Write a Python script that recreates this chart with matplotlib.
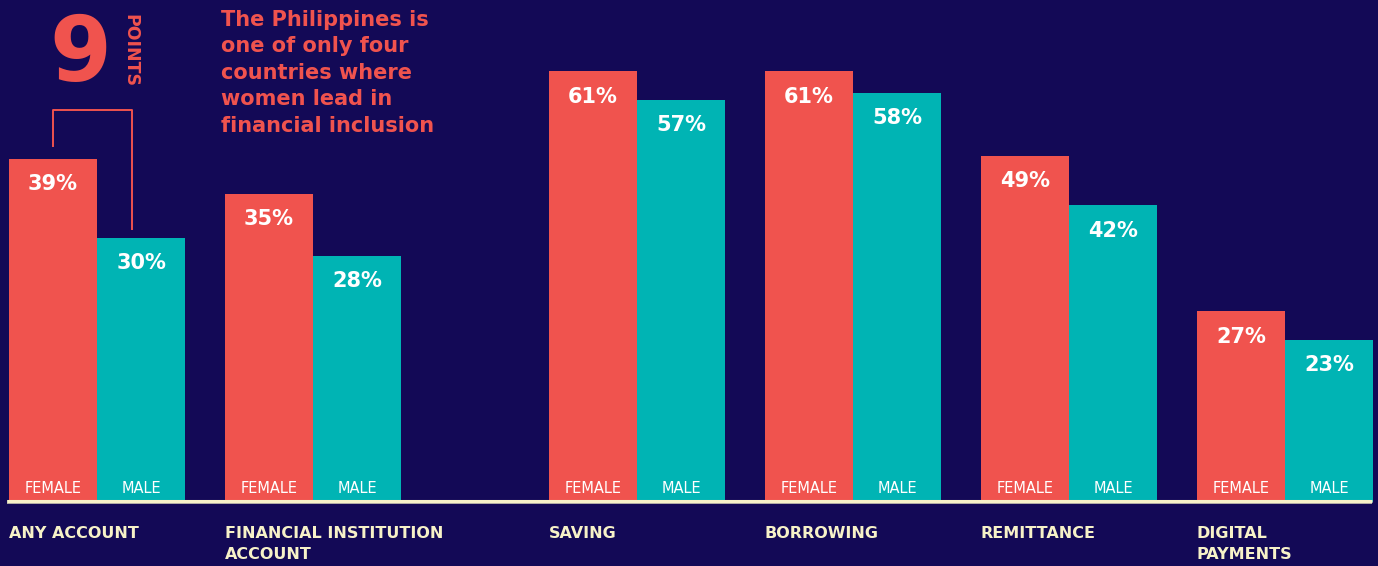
import matplotlib
matplotlib.use("Agg")
import matplotlib.pyplot as plt

# data
categories = ["ANY ACCOUNT", "FINANCIAL INSTITUTION\nACCOUNT", "SAVING",
              "BORROWING", "REMITTANCE", "DIGITAL\nPAYMENTS"]
female = [39, 35, 61, 61, 49, 27]
male = [30, 28, 57, 58, 42, 23]
positions = [0, 1, 2.5, 3.5, 4.5, 5.5]
note = "The Philippines is\none of only four\ncountries where\nwomen lead in\nfinancial inclusion"

BG = "#130956"
CORAL = "#F0534E"
TEAL = "#00B4B4"
CREAM = "#F7F2C8"

W, H = 1378, 566
base_px = 502
unit = 216.0
x0 = 97.0
bw = 88 / unit

fig = plt.figure(figsize=(W / 100, H / 100), dpi=100, facecolor=BG)
rect = [0, (H - base_px) / H, 1, base_px / H]
# first two groups are drawn on a taller scale, like in the original graphic
ax1 = fig.add_axes(rect)
ax2 = fig.add_axes(rect)
xlim = (-x0 / unit, (W - x0) / unit)
scales = [8.8, 7.06]  # px per percent
for ax, s in zip([ax1, ax2], scales):
    ax.set_xlim(*xlim)
    ax.set_ylim(0, base_px / s)
    ax.axis("off")
    ax.patch.set_alpha(0)

for i, (c, f, m) in enumerate(zip(positions, female, male)):
    ax = ax1 if i < 2 else ax2
    ax.bar(c - bw / 2, f, width=bw, color=CORAL, linewidth=0)
    ax.bar(c + bw / 2, m, width=bw, color=TEAL, linewidth=0)
    for xc, v in [(c - bw / 2, f), (c + bw / 2, m)]:
        ax.annotate(f"{v}%", xy=(xc, v), xytext=(0, -11), textcoords="offset points",
                    ha="center", va="top", color="white", fontsize=15, fontweight="bold")
    ax.annotate("FEMALE", xy=(c - bw / 2, 0), xytext=(0, 9.5), textcoords="offset points",
                ha="center", va="center", color="white", fontsize=10.5)
    ax.annotate("MALE", xy=(c + bw / 2, 0), xytext=(0, 9.5), textcoords="offset points",
                ha="center", va="center", color="white", fontsize=10.5)
    ax.annotate(categories[i], xy=(c - bw, 0), xytext=(0, -17), textcoords="offset points",
                ha="left", va="top", color=CREAM, fontsize=11.5, fontweight="bold",
                linespacing=1.55)

# baseline
ax2.plot([xlim[0] + 7 / unit, xlim[1] - 6 / unit], [0, 0], color="#B8B4A8", lw=2.8,
         solid_capstyle="butt", clip_on=False, zorder=3)
ax2.plot([xlim[0] + 7 / unit, xlim[1] - 6 / unit], [0.12, 0.12], color=CREAM, lw=2.2,
         solid_capstyle="butt", clip_on=False, zorder=4)

# bracket for the gap in "any account"
f0, m0 = female[0], male[0]
top = f0 + 5.5
ax1.plot([positions[0] - bw / 2, positions[0] - bw / 2, positions[0] + 0.4 * bw,
          positions[0] + 0.4 * bw],
         [f0 + 1.5, top, top, m0 + 1], color=CORAL, lw=1.4, zorder=5)

fig.text(80 / W, 1 - 56 / H, str(f0 - m0), color=CORAL, fontsize=64, fontweight="bold",
         ha="center", va="center")
fig.text(130 / W, 1 - 50 / H, "POINTS", color=CORAL, fontsize=12.5, fontweight="bold",
         rotation=-90, ha="center", va="center")

fig.text(221 / W, 1 - 10 / H, note, color=CORAL, fontsize=15, fontweight="bold",
         ha="left", va="top", linespacing=1.4)

fig.savefig("out.png", dpi=100, facecolor=BG)
